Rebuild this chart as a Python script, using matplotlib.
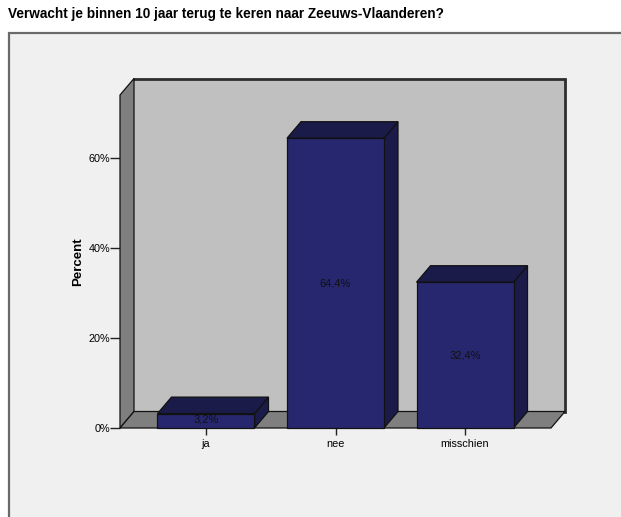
import matplotlib
matplotlib.use("Agg")
import matplotlib.pyplot as plt
from matplotlib.patches import Polygon, Rectangle

plt.rcParams['font.family'] = ['Liberation Sans', 'DejaVu Sans']

title = "Verwacht je binnen 10 jaar terug te keren naar Zeeuws-Vlaanderen?"
categories = ["ja", "nee", "misschien"]
percents = [3.2, 64.4, 32.4]
value_labels = ["3,2%", "64,4%", "32,4%"]
yticks = [0, 20, 40, 60]
ytick_labels = ["0%", "20%", "40%", "60%"]

W, H = 621, 517
fig = plt.figure(figsize=(W / 100, H / 100), dpi=100)
fig.patch.set_facecolor("white")

# panel background
panel = Rectangle((8.5 / W, -0.01), 1.0, (H - 33.5) / H + 0.01, transform=fig.transFigure,
                  facecolor="#f0f0f0", edgecolor="#6a6a6a", linewidth=1.6, zorder=-10)
fig.add_artist(panel)

fig.text(8 / W, 1 - 14 / H, title, fontsize=9.85, fontweight="bold", ha="left", va="center")

# axes = front plane
left_px, right_px = 120, 551
bottom_px, top_px = 428, 95
ax = fig.add_axes([left_px / W, (H - bottom_px) / H, (right_px - left_px) / W, (bottom_px - top_px) / H])
ax.set_zorder(1)
ax.set_facecolor("none")
for s in ax.spines.values():
    s.set_visible(False)

xmin, xmax = -0.664, 2.664
ymin, ymax = 0, 74
ax.set_xlim(xmin, xmax)
ax.set_ylim(ymin, ymax)

px_per_x = (right_px - left_px) / (xmax - xmin)
px_per_y = (bottom_px - top_px) / (ymax - ymin)
ddx = 14 / px_per_x
ddy = 16.5 / px_per_y

edge = "#111111"
lw = 0.9
# back wall
ax.add_patch(Rectangle((xmin + ddx, ddy), xmax - xmin, ymax, facecolor="#c0c0c0",
                       edgecolor="none", clip_on=False, zorder=1))
ax.plot([xmin + ddx, xmax + ddx, xmax + ddx], [ymax + ddy, ymax + ddy, ddy], color="#2d2d2d",
        lw=2.0, clip_on=False, zorder=1.5, solid_joinstyle="miter")
# left wall
ax.add_patch(Polygon([(xmin, 0), (xmin, ymax), (xmin + ddx, ymax + ddy), (xmin + ddx, ddy)],
                     closed=True, facecolor="#7f7f7f", edgecolor=edge, lw=lw, clip_on=False, zorder=2))
# floor
ax.add_patch(Polygon([(xmin, 0), (xmax, 0), (xmax + ddx, ddy), (xmin + ddx, ddy)],
                     closed=True, facecolor="#7f7f7f", edgecolor=edge, lw=lw, clip_on=False, zorder=2))

bw = 97 / px_per_x
front_c = "#26276e"
dark_c = "#1b1b4a"
for i, (cat, p, lab) in enumerate(zip(categories, percents, value_labels)):
    x0, x1 = i - bw / 2, i + bw / 2
    # side
    ax.add_patch(Polygon([(x1, 0), (x1, p), (x1 + ddx, p + ddy), (x1 + ddx, ddy)], closed=True,
                         facecolor=dark_c, edgecolor=edge, lw=lw, clip_on=False, zorder=3))
    # top
    ax.add_patch(Polygon([(x0, p), (x1, p), (x1 + ddx, p + ddy), (x0 + ddx, p + ddy)], closed=True,
                         facecolor=dark_c, edgecolor=edge, lw=lw, clip_on=False, zorder=3))
    # front
    ax.add_patch(Rectangle((x0, 0), bw, p, facecolor=front_c, edgecolor=edge, lw=lw,
                           clip_on=False, zorder=4))
    ax.text(i, p / 2 if p > 5 else p / 2 + 0.2, lab, ha="center", va="center", fontsize=8,
            color="#111111", zorder=5)

ax.set_xticks(range(len(categories)))
ax.set_xticklabels(categories, fontsize=7.8)
ax.set_yticks(yticks)
ax.set_yticklabels(ytick_labels, fontsize=7.8)
ax.tick_params(axis="x", length=5, width=1, color="#222222", pad=3)
ax.tick_params(axis="y", length=7, width=1, color="#222222", pad=0)
ax.set_ylabel("Percent", fontsize=9.5, fontweight="bold", labelpad=3)

fig.savefig("out.png", dpi=100)
